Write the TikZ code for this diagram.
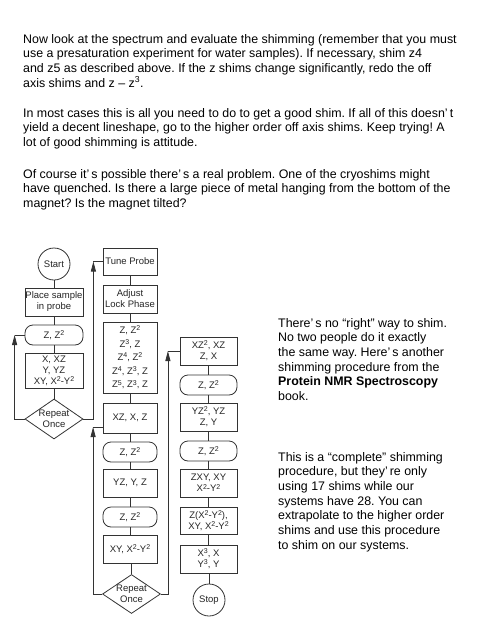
\documentclass[tikz,border=0pt]{standalone}
\usepackage{fontspec}
\setmainfont{Liberation Sans}
\usetikzlibrary{shapes.geometric,arrows.meta}
\definecolor{ln}{HTML}{333333}
\newcommand{\sq}[1]{\raisebox{0.55ex}{\fontsize{7}{7}\selectfont #1}}
\frenchspacing
\begin{document}
\begin{tikzpicture}[x=1pt,y=-1pt,
  every node/.style={inner sep=0pt},
  txt/.style={anchor=base west, font=\fontsize{12.4}{14.7}\selectfont\frenchspacing, text=black},
  fbox/.style={draw=ln, line width=0.8pt, align=center, font=\fontsize{9.5}{11}\selectfont, text=black!85},
  rect/.style 2 args={fbox, minimum width=#1, minimum height=#2},
  rbox/.style 2 args={fbox, rounded corners=8pt, minimum width=#1, minimum height=#2},
  term/.style={fbox, circle, minimum size=32pt},
  deci/.style 2 args={fbox, diamond, inner sep=-9pt, minimum width=#1, minimum height=#2, font=\fontsize{9.5}{10.5}\selectfont},
  conn/.style={draw=ln, line width=0.8pt},
  arr/.style={conn, -{Triangle[width=5pt,length=10pt]}}
]
\useasboundingbox (0,0) rectangle (480,640);
\fill[white] (0,0) rectangle (480,640);

% ---- paragraphs ----
\node[txt] (p1a) at (23,43) {Now look at the spectrum and evaluate the shimming (remember that you must};
\node[txt] (p1b) at (23,57.7) {use a presaturation experiment for water samples). If necessary, shim z4};
\node[txt] (p1c) at (23,72.4) {and z5 as described above. If the z shims change significantly, redo the off};
\node[txt] (p1d) at (23,87.1) {axis shims and z – z\textsuperscript{3}.};

\node[txt] (p2a) at (23,117) {In most cases this is all you need to do to get a good shim. If all of this doesn’\,t};
\node[txt] (p2b) at (23,131.7) {yield a decent lineshape, go to the higher order off axis shims. Keep trying! A};
\node[txt] (p2c) at (23,146.4) {lot of good shimming is attitude.};

\node[txt] (p3a) at (23,178) {Of course it’\,s possible there’\,s a real problem. One of the cryoshims might};
\node[txt] (p3b) at (23,192.7) {have quenched. Is there a large piece of metal hanging from the bottom of the};
\node[txt] (p3c) at (23,207.4) {magnet? Is the magnet tilted?};

\node[txt] (r1a) at (278,327) {There’\,s no “right” way to shim.};
\node[txt] (r1b) at (278,341.7) {No two people do it exactly};
\node[txt] (r1c) at (278,356.4) {the same way. Here’\,s another};
\node[txt] (r1d) at (278,371.1) {shimming procedure from the};
\node[txt] (r1e) at (278,385.8) {\textbf{Protein NMR Spectroscopy}};
\node[txt] (r1f) at (278,400.5) {book.};

\node[txt] (r2a) at (278,461) {This is a “complete” shimming};
\node[txt] (r2b) at (278,475.7) {procedure, but they’\,re only};
\node[txt] (r2c) at (278,490.4) {using 17 shims while our};
\node[txt] (r2d) at (278,505.1) {systems have 28. You can};
\node[txt] (r2e) at (278,519.8) {extrapolate to the higher order};
\node[txt] (r2f) at (278,534.5) {shims and use this procedure};
\node[txt] (r2g) at (278,549.2) {to shim on our systems.};

% ---- column 1 ----
\node[term] (start) at (54,264) {Start};
\node[rect={58pt}{28pt}] (place) at (54,302) {Place sample\\in probe};
\node[rbox={58pt}{20pt}] (c1z) at (54,335) {Z, Z\sq{2}};
\node[rect={58pt}{35pt}] (c1x) at (54,370.5) {X, XZ\\Y, YZ\\XY, X\sq{2}-Y\sq{2}};
\node[deci={58pt}{40pt}] (rep1) at (54,419) {Repeat\\Once};

% ---- column 2 ----
\node[rect={54pt}{27pt}] (tune) at (130,261.5) {Tune Probe};
\node[rect={54pt}{28pt}] (lock) at (130,299) {Adjust\\Lock Phase};
\node[rect={54pt}{71pt}, font=\fontsize{9.5}{13.6}\selectfont] (big) at (130,357.5)
  {Z, Z\sq{2}\\Z\sq{3}, Z\\Z\sq{4}, Z\sq{2}\\Z\sq{4}, Z\sq{3}, Z\\Z\sq{5}, Z\sq{3}, Z};
\node[rect={54pt}{30pt}] (xz) at (130,418) {XZ, X, Z};
\node[rbox={54pt}{20pt}] (c2z1) at (130,452) {Z, Z\sq{2}};
\node[rect={54pt}{28pt}] (yz) at (130,483) {YZ, Y, Z};
\node[rbox={54pt}{20pt}] (c2z2) at (130,517) {Z, Z\sq{2}};
\node[rect={54pt}{28pt}] (xy) at (130,549) {XY, X\sq{2}-Y\sq{2}};
\node[deci={58pt}{39pt}] (rep2) at (131.5,594) {Repeat\\Once};

% ---- column 3 ----
\node[rect={57pt}{28pt}] (xz2) at (208.5,351) {XZ\sq{2}, XZ\\Z, X};
\node[rbox={57pt}{20pt}] (c3z1) at (208.5,385) {Z, Z\sq{2}};
\node[rect={57pt}{28pt}] (yz2) at (208.5,417) {YZ\sq{2}, YZ\\Z, Y};
\node[rbox={57pt}{20pt}] (c3z2) at (208.5,451) {Z, Z\sq{2}};
\node[rect={57pt}{28pt}] (zxy) at (208.5,483) {ZXY, XY\\X\sq{2}-Y\sq{2}};
\node[rect={57pt}{27pt}] (zx2) at (208.5,520.5) {Z(X\sq{2}-Y\sq{2}),\\XY, X\sq{2}-Y\sq{2}};
\node[rect={57pt}{28pt}] (x3) at (208.5,559) {X\sq{3}, X\\Y\sq{3}, Y};
\node[term] (stop) at (209,600) {Stop};

% ---- straight connectors ----
\foreach \a/\b in {start/place, place/c1z, c1z/c1x, c1x/rep1,
  tune/lock, lock/big, big/xz, xz/c2z1, c2z1/yz, yz/c2z2, c2z2/xy, xy/rep2,
  xz2/c3z1, c3z1/yz2, yz2/c3z2, c3z2/zxy, zxy/zx2, zx2/x3, x3/stop}
  \draw[conn] (\b.north) -- (\b.north |- \a.south);

% ---- feedback loops ----
\path (rep1.west) ++(-10,0) coordinate (k1b);
\draw[arr] (rep1.west) -- (k1b) -- (k1b |- c1z.west);
\draw[conn] (k1b |- c1z.west) -- (c1z.west);

\path (rep1.east) ++(10,0) coordinate (k1c);
\draw[arr] (rep1.east) -- (k1c) -- (k1c |- tune.west);
\draw[conn] (k1c |- tune.west) -- (tune.west);

\coordinate (xzin) at ([yshift=-9pt]xz.west);
\path (rep2.west) ++(-9,0) coordinate (k2b);
\draw[arr] (rep2.west) -- (k2b) -- (k2b |- xzin);
\draw[conn] (k2b |- xzin) -- (xzin);

\path (rep2.east) ++(7,0) coordinate (k2c);
\draw[arr] (rep2.east) -- (k2c) -- (k2c |- xz2.west);
\draw[conn] (k2c |- xz2.west) -- (xz2.west);
\end{tikzpicture}
\end{document}
